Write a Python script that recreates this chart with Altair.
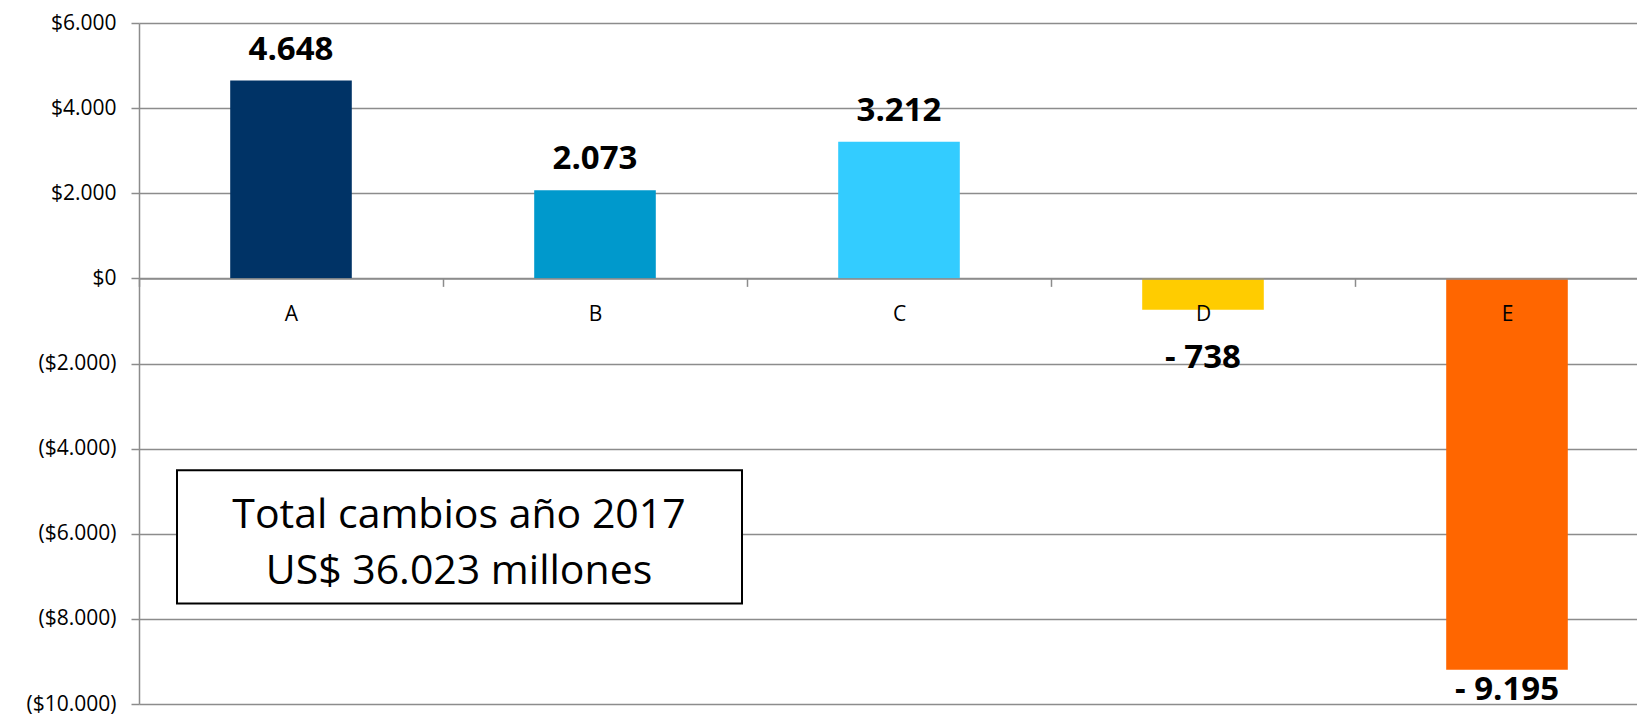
import altair as alt
import pandas as pd

# ---- data ----
categories = ["A", "B", "C", "D", "E"]
values = [4648, 2073, 3212, -738, -9195]
colors = ["#003366", "#0099CC", "#33CCFF", "#FFCC00", "#FF6600"]
y_ticks = [6000, 4000, 2000, 0, -2000, -4000, -6000, -8000, -10000]
box_lines = ["Total cambios año 2017", "US$ 36.023 millones"]


def fmt(v):
    s = f"{abs(v):,}".replace(",", ".")
    return s if v >= 0 else "- " + s


df = pd.DataFrame({"cat": categories, "value": values,
                   "label": [fmt(v) for v in values]})

# ---- layout / style ----
W, H = 1498, 681
STEP = 304
Y_MIN, Y_MAX = -10000, 6000
FONT = "Open Sans"
GRID = "#8c8c8c"
AXIS_FS = 21
SCALE_Y = H / 690.0
REF_TOP = 22.7

zero_offset = -H * (0 - Y_MIN) / (Y_MAX - Y_MIN)

x_scale = alt.Scale(domain=categories, range=[0, STEP * len(categories)],
                    paddingInner=0, paddingOuter=0)
y_scale = alt.Scale(domain=[Y_MIN, Y_MAX], nice=False)

label_expr = ("datum.value >= 0 ? '$' + replace(format(datum.value, ','), ',', '.')"
              " : '($' + replace(format(-datum.value, ','), ',', '.') + ')'")

x_enc = alt.X("cat:N", scale=x_scale, sort=categories,
              axis=alt.Axis(title=None, orient="bottom", offset=zero_offset,
                            labelAngle=0, labelFont=FONT, labelFontSize=AXIS_FS,
                            labelColor="#000000", labelPadding=17,
                            tickBand="extent", tickSize=8, tickColor=GRID,
                            tickWidth=1.5, domainColor=GRID, domainWidth=1.5,
                            grid=False, zindex=1))
y_enc = alt.Y("value:Q", scale=y_scale,
              axis=alt.Axis(title=None, values=y_ticks, labelExpr=label_expr,
                            labelFont=FONT, labelFontSize=AXIS_FS,
                            labelColor="#000000", labelPadding=15,
                            tickSize=8, tickColor=GRID, tickWidth=1.5,
                            domainColor=GRID, domainWidth=1.5,
                            grid=True, gridColor=GRID, gridWidth=1.5))

base = alt.Chart(df)

bars = base.mark_bar(width=alt.RelativeBandSize(0.4)).encode(
    x=x_enc,
    y=y_enc,
    y2=alt.datum(0),
    color=alt.Color("cat:N", scale=alt.Scale(domain=categories, range=colors),
                    legend=None),
)

label_style = dict(font=FONT, fontSize=33, fontWeight="bold",
                   baseline="alphabetic", color="#000000")
label_enc = dict(x=alt.X("cat:N", sort=categories), y="value:Q", text="label:N")

pos_labels = base.transform_filter("datum.value >= 0").mark_text(
    dy=-21, **label_style).encode(**label_enc)

# short negative bars: label drops below the category label
neg_short = base.transform_filter("datum.value < 0 && datum.value > -2000").mark_text(
    dy=58, **label_style).encode(**label_enc)

neg_long = base.transform_filter("datum.value <= -2000").mark_text(
    dy=30, **label_style).encode(**label_enc)

box_df = pd.DataFrame({"k": [0]})
box = alt.Chart(box_df).mark_rect(fill="white", stroke="#000000",
                                  strokeWidth=2).encode(
    x=alt.value(38), x2=alt.value(603),
    y=alt.value((471.7 - REF_TOP) * SCALE_Y + 4),
    y2=alt.value((606.7 - REF_TOP) * SCALE_Y + 4),
)

box_text_layers = []
for i, line in enumerate(box_lines):
    box_text_layers.append(
        alt.Chart(box_df).mark_text(
            text=line, font=FONT, fontSize=41, baseline="alphabetic",
            align="center", color="#000000"
        ).encode(x=alt.value(320),
                 y=alt.value((526 + 57 * i - REF_TOP) * SCALE_Y + 8))
    )

chart = alt.layer(bars, pos_labels, neg_short, neg_long, box,
                  *box_text_layers).properties(
    width=W, height=H,
    autosize=alt.AutoSizeParams(type="none"),
    padding={"left": 131, "top": 15, "right": 0, "bottom": 14},
    background="white",
).configure_view(stroke=None)

chart.save("out.html", embed_options={"renderer": "svg", "actions": False})
